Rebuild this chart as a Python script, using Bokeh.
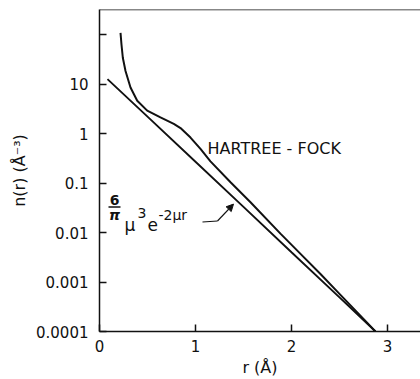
from bokeh.plotting import figure
from bokeh.models import FixedTicker, Span, Arrow, NormalHead
from bokeh.embed import file_html
from bokeh.resources import INLINE
from bokeh.core.properties import value

# ---- data ----
hf_r = [0.219, 0.229, 0.243, 0.271, 0.323, 0.393, 0.497, 0.635, 0.774, 0.844,
        0.948, 1.052, 1.156, 1.365, 1.573, 1.885, 2.094, 2.302, 2.51, 2.875]
hf_n = [108, 63, 34, 18.4, 8.5, 4.6, 2.9, 2.12, 1.57, 1.29,
        0.83, 0.49, 0.274, 0.104, 0.041, 0.0095, 0.0037, 0.00145, 0.00055, 0.0001]

exp_r = [0.083, 0.5, 1.0, 1.5, 2.0, 2.5, 2.875]
exp_n = [12.6, 2.2, 0.27, 0.033, 0.004, 0.00049, 0.0001]

x_ticks = [0, 1, 2, 3]
y_ticks = [1e-4, 1e-3, 1e-2, 1e-1, 1, 10, 100]
y_tick_labels = ["0.0001", "0.001", "0.01", "0.1", "1", "10", ""]

curve_label = "HARTREE - FOCK"
x_label = "r (Å)"
y_label = "n(r) (Å⁻³)"

X0, X1 = 0.0, 3.344
Y0, Y1 = 1e-4, 321.0
FONT = "DejaVu Sans"
INK = "#111111"

p = figure(width=420, height=379, x_range=(X0, X1), y_range=(Y0, Y1),
           y_axis_type="log", output_backend="svg", toolbar_location=None,
           min_border_left=99, min_border_right=0, min_border_top=9,
           min_border_bottom=46, background_fill_color="white",
           border_fill_color="white")
p.outline_line_color = None
p.grid.visible = False

p.xaxis.ticker = FixedTicker(ticks=x_ticks)
p.yaxis.ticker = FixedTicker(ticks=y_ticks)
p.yaxis.major_label_overrides = {t: l for t, l in zip(y_ticks, y_tick_labels)}

for ax in p.axis:
    ax.major_tick_in = 7
    ax.major_tick_out = 0
    ax.minor_tick_line_color = None
    ax.axis_line_width = 1.5
    ax.axis_line_color = INK
    ax.major_tick_line_width = 1.5
    ax.major_tick_line_color = INK
    ax.major_label_text_font = FONT
    ax.major_label_text_font_size = "15px"
    ax.major_label_text_color = INK
    ax.axis_label_text_font = FONT
    ax.axis_label_text_font_size = "16px"
    ax.axis_label_text_font_style = "normal"
    ax.axis_label_text_color = INK

p.xaxis.axis_label = x_label
p.yaxis.axis_label = y_label
p.xaxis.major_label_standoff = 8
p.xaxis.axis_label_standoff = 3
p.yaxis.major_label_standoff = 11
p.yaxis.axis_label_standoff = 4

p.add_layout(Span(location=Y1, dimension="width", line_color=INK, line_width=1.5))

p.line(hf_r, hf_n, line_width=2.0, line_color=INK)
p.line(exp_r, exp_n, line_width=1.9, line_color=INK)


# helpers to place annotations by picture position
def rx(px):
    return (px - 99) / 96.0


def ny(py):
    return 10 ** ((133 - py) / 49.8)


p.text(x=[rx(207)], y=[ny(148)], text=[curve_label], text_font=value(FONT),
       text_font_size="16px", text_baseline="middle", text_align="left",
       text_color=INK)

# formula 6/pi mu^3 e^{-2 mu r}
p.text(x=[rx(114)], y=[ny(200)], text=["6"], text_font=value(FONT),
       text_font_size="14px", text_baseline="middle", text_align="center",
       text_font_style="bold", text_color=INK)
p.segment(x0=[rx(108)], y0=[ny(207)], x1=[rx(120)], y1=[ny(207)],
          line_width=1.5, line_color=INK)
p.text(x=[rx(114)], y=[ny(215)], text=["π"], text_font=value(FONT),
       text_font_size="14px", text_baseline="middle", text_align="center",
       text_font_style="bold italic", text_color=INK)
p.text(x=[rx(124), rx(147)], y=[ny(225), ny(225)], text=["μ", "e"],
       text_font=value(FONT), text_font_size="17px", text_baseline="alphabetic",
       text_align="left", text_color=INK)
p.text(x=[rx(137), rx(158)], y=[ny(213), ny(215)], text=["3", "-2μr"],
       text_font=value(FONT), text_font_size="14px", text_baseline="alphabetic",
       text_align="left", text_color=INK)

# leader with arrow
p.segment(x0=[rx(202)], y0=[ny(222)], x1=[rx(217)], y1=[ny(221)],
          line_width=1.2, line_color=INK)
p.add_layout(Arrow(end=NormalHead(size=7, fill_color=INK, line_color=INK),
                   x_start=rx(217), y_start=ny(221), x_end=rx(233), y_end=ny(204),
                   line_width=1.2, line_color=INK))

open("out.html", "w").write(file_html(p, INLINE))
